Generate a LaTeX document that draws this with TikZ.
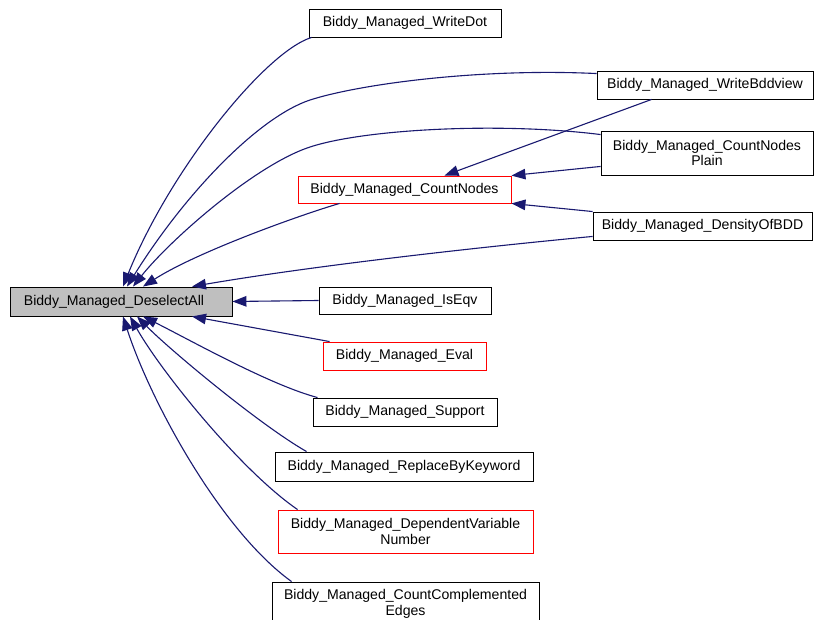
\documentclass[tikz,border=0pt]{standalone}
\usepackage{fontspec}
\setmainfont{Liberation Sans}
\usetikzlibrary{arrows.meta}
\definecolor{edgeblue}{HTML}{191970}
\definecolor{focusgray}{HTML}{BFBFBF}
\definecolor{linkred}{HTML}{FF0000}
\tikzset{
  fn/.style={draw=black, line width=0.9pt, fill=white, inner sep=0pt,
    align=center, font=\fontsize{14.1}{15.5}\selectfont},
  fnred/.style={fn, draw=linkred},
  focus/.style={fn, fill=focusgray},
  edge/.style={draw=edgeblue, line width=1.1pt,
    {Triangle[length=14pt,width=10.5pt]}-},
}
\begin{document}
\begin{tikzpicture}[x=1pt,y=-1pt]
  \useasboundingbox (0,0) rectangle (814,620);
  \clip (0,0) rectangle (814,620);
  \fill[white] (0,0) rectangle (814,620);

  % function boxes
  \node[focus, minimum width=222pt, minimum height=29pt] (dsel) at (121,301.5) {Biddy\_Managed\_DeselectAll\kern14pt};
  \node[fn, minimum width=192pt, minimum height=28pt] (wdot) at (405,23) {Biddy\_Managed\_WriteDot};
  \node[fn, minimum width=216pt, minimum height=28pt] (wbdd) at (705,85) {Biddy\_Managed\_WriteBddview};
  \node[fn, minimum width=212pt, minimum height=44pt] (cnp) at (707,153) {Biddy\_Managed\_CountNodes\\Plain};
  \node[fn, minimum width=219pt, minimum height=28pt] (dens) at (702.5,226) {Biddy\_Managed\_DensityOfBDD};
  \node[fnred, minimum width=213pt, minimum height=27pt] (cn) at (404.5,189.5) {Biddy\_Managed\_CountNodes};
  \node[fn, minimum width=172pt, minimum height=27pt] (iseqv) at (405,300.5) {Biddy\_Managed\_IsEqv};
  \node[fnred, minimum width=163pt, minimum height=28pt] (eval) at (404.5,356) {Biddy\_Managed\_Eval};
  \node[fn, minimum width=184pt, minimum height=28pt] (supp) at (405,412) {Biddy\_Managed\_Support};
  \node[fn, minimum width=258pt, minimum height=29pt] (repl) at (404,466.5) {Biddy\_Managed\_ReplaceByKeyword};
  \node[fnred, minimum width=255pt, minimum height=43pt] (dep) at (405.5,531.5) {Biddy\_Managed\_DependentVariable\\Number};
  \node[fn, minimum width=267pt, minimum height=44pt] (cce) at (405.5,604) {Biddy\_Managed\_CountComplemented\\Edges};

  % callers of DeselectAll (above)
  \draw[edge] ([xshift=2pt]dsel.north) .. controls (170,170) and (265,52) .. ([xshift=3pt]wdot.south west);
  \draw[edge] ([xshift=6pt]dsel.north) .. controls (186,192) and (259,117) .. (310,100)
              .. controls (360,84) and (480,68) .. ([yshift=-3pt]wbdd.north west);
  \draw[edge] ([xshift=12pt]dsel.north) .. controls (170,240) and (255,165) .. (310,147)
              .. controls (365,129) and (500,122) .. ([yshift=-4pt]cnp.north west);
  \draw[edge] ([xshift=22pt]dsel.north) .. controls (197,252) and (300,215) .. ([xshift=42pt]cn.south west);
  \draw[edge] ([xshift=71pt]dsel.north) .. controls (300,268) and (450,250) .. ([yshift=4pt]dens.south west);

  % callers of CountNodes
  \draw[edge] ([xshift=40pt]cn.north) -- ([xshift=55pt]wbdd.south west);
  \draw[edge] (cn.north east) -- ([yshift=9pt]cnp.south west);
  \draw[edge] (cn.south east) -- (dens.north west);

  % callers of DeselectAll (level and below)
  \draw[edge] (dsel.east) -- (iseqv.west);
  \draw[edge] ([xshift=71pt]dsel.south) -- ([xshift=7pt]eval.north west);
  \draw[edge] ([xshift=22pt]dsel.south) .. controls (190,340) and (270,385) .. ([xshift=5pt]supp.north west);
  \draw[edge] ([xshift=16pt]dsel.south) .. controls (170,350) and (260,425) .. ([xshift=32pt]repl.north west);
  \draw[edge] ([xshift=9pt]dsel.south) .. controls (160,370) and (240,470) .. ([xshift=20pt]dep.north west);
  \draw[edge] ([xshift=2pt]dsel.south) .. controls (150,400) and (220,530) .. ([xshift=20pt]cce.north west);
\end{tikzpicture}
\end{document}
